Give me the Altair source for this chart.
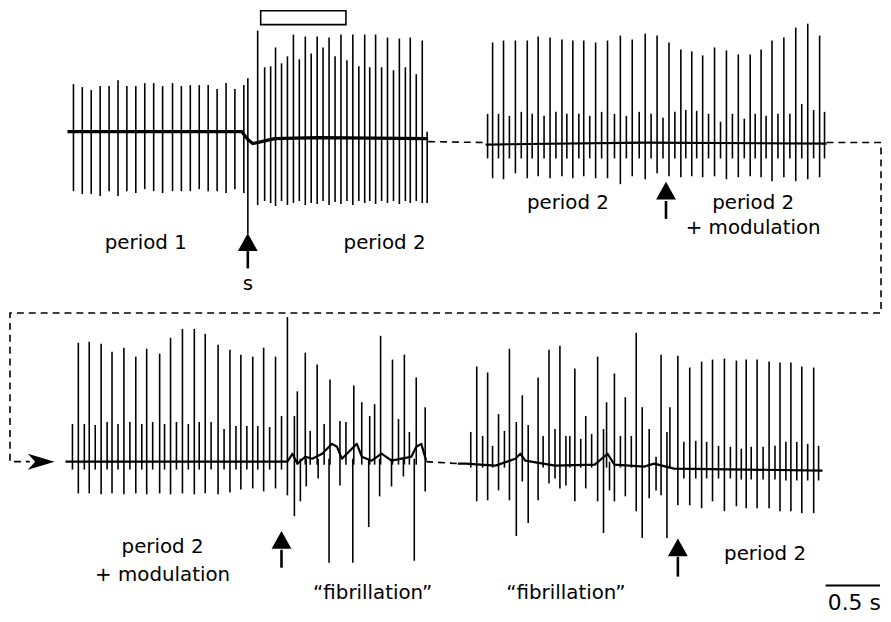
import altair as alt
import pandas as pd

# ---------------- data ----------------
# time: ms from the start of each sweep; amplitude: a.u. relative to the sweep baseline (up = positive)

# Sweep A (top left): period 1 -> stimulus s -> period 2
A_t = [55, 136, 218, 300, 382, 464, 545, 627, 709, 791, 873, 964, 1045, 1127, 1209, 1291, 1373, 1455, 1536, 1618,
       1655,
       1745, 1809, 1864, 1909, 1964, 2018, 2073, 2127, 2182, 2236, 2291, 2345, 2400, 2455, 2509, 2564, 2618, 2673,
       2727, 2773, 2827, 2882, 2936, 2991, 3045, 3100, 3145, 3200, 3255, 3300]
A_hi = [48, 45, 42, 46, 46, 52, 46, 46, 49, 49, 46, 49, 46, 47, 47, 47, 43, 49, 43, 47,
        54,
        102, 65, 66, 85, 69, 76, 98, 73, 96, 79, 96, 85, 95, 76, 98, 72, 98, 66,
        98, 65, 98, 65, 95, 62, 94, 65, 95, 58, 92, 0]
A_lo = [-60, -63, -63, -65, -60, -65, -60, -62, -58, -60, -62, -60, -60, -60, -58, -60, -60, -62, -58, -62,
        -103,
        -74, -70, -72, -75, -70, -74, -72, -70, -74, -72, -73, -70, -74, -71, -73, -70, -74, -70,
        -72, -70, -73, -70, -72, -70, -73, -70, -72, -70, -72, -72]
A_base_t = [0, 1600, 1655, 1700, 1780, 1900, 2300, 3309]
A_base_a = [0, 0, -8, -12, -10, -7, -6, -7]

# Sweep B (top right): period 2 -> period 2 + modulation
B_tall_t = [64, 164, 273, 382, 482, 591, 700, 800, 900, 1009, 1118, 1236, 1345, 1464, 1573, 1682, 1791, 1891,
            1991, 2100, 2209, 2318, 2427, 2527, 2627, 2736, 2845, 2955, 3064]
B_tall_hi = [102, 104, 104, 104, 108, 107, 105, 104, 104, 102, 104, 109, 105, 111, 109, 102, 95, 93,
             89, 97, 94, 90, 90, 95, 104, 107, 117, 121, 109]
B_tall_lo = [-35, -36, -30, -35, -33, -35, -33, -35, -33, -35, -35, -41, -33, -36, -30, -33, -34, -33,
             -34, -33, -36, -34, -33, -34, -38, -34, -38, -36, -34]
B_small_t = [18, 118, 218, 327, 427, 536, 645, 745, 855, 955, 1064, 1182, 1291, 1409, 1518, 1627, 1736, 1836,
             1936, 2045, 2155, 2264, 2373, 2473, 2573, 2682, 2791, 2900, 3009, 3109]
B_small_hi = [30, 30, 28, 32, 30, 28, 32, 30, 30, 28, 32, 30, 28, 32, 30, 26, 32, 34,
              33, 30, 22, 30, 25, 30, 28, 30, 30, 40, 34, 32]
B_small_lo = [-15] * 30
B_base_t = [0, 1455, 3127]
B_base_a = [-1, 1, 0]

# Sweep C (bottom left): period 2 + modulation -> "fibrillation"
C_t = [118, 218, 327, 427, 536, 645, 745, 864, 964, 1073, 1182, 1282, 1400, 1509, 1609, 1718, 1818, 1927, 2036,
       64, 173, 273, 382, 482, 591, 700, 800, 909, 1018, 1127, 1227, 1336, 1455, 1564, 1664, 1764, 1873, 1982,
       2100, 2127, 2155, 2200, 2209, 2245, 2309, 2318, 2373, 2418, 2427, 2518, 2573, 2636, 2645, 2718, 2782,
       2791, 2836, 2882, 2891, 2991, 3000, 3055, 3100, 3109, 3155, 3200, 3218, 3300]
C_hi = [120, 121, 119, 111, 115, 106, 114, 109, 125, 134, 134, 129, 118, 113, 108, 106, 115, 106, 146,
        38, 38, 37, 40, 38, 40, 38, 40, 38, 40, 38, 40, 40, 33, 36, 36, 36, 35, 46,
        46, 71, 3, 110, 3, 31, 98, 3, 38, 3, 83, 41, 40, 3, 77, 60, 3,
        46, 58, 3, 127, 3, 103, 43, 3, 108, 30, 3, 85, 55]
C_lo = [-32, -32, -33, -32, -33, -32, -33, -32, -33, -32, -33, -32, -33, -31, -28, -27, -30, -27, -34,
        -8, -8, -8, -8, -8, -8, -8, -8, -8, -8, -8, -8, -8, -8, -8, -8, -8, -8, -8,
        -55, -3, -40, -3, -25, -3, -3, -17, -3, -102, -3, -24, -3, -102, -3, -3, -66,
        -3, -3, -35, -3, -25, -3, -3, -15, -3, -3, -100, -3, -30]
C_base_t = [0, 2036, 2082, 2127, 2200, 2264, 2355, 2445, 2491, 2536, 2627, 2673, 2718, 2809, 2900, 2991,
            3082, 3173, 3218, 3264, 3309]
C_base_a = [0, 0, 8, -2, 5, 3, 8, 18, 15, 3, 13, 18, 5, 1, 8, 1, 3, 5, 15, 18, 1]

# Sweep D (bottom right): "fibrillation" -> period 2
D_t = [118, 173, 227, 273, 318, 373, 427, 473, 536, 591, 645, 736, 782, 836, 891, 936, 991, 1027, 1073, 1127,
       1173, 1227, 1282, 1336, 1364, 1391, 1436, 1491, 1536, 1591, 1636, 1691, 1755, 1818, 1864, 1918, 1945,
       2018, 2073, 2127, 2182, 2236, 2282, 2336, 2391, 2445, 2500, 2555, 2600, 2645, 2691, 2745, 2800, 2855,
       2909, 2955, 3009, 3055, 3109, 3155, 3209, 3264, 3309]
D_hi = [33, 99, 29, 93, 19, 51, 34, 117, 43, 70, 40, 88, 29, 116, 36, 120, 29, 29, 97, 26,
        49, 31, 109, 36, 63, 3, 92, 29, 68, 29, 133, 58, 36, 8, 111, 33, 58,
        110, 23, 98, 24, 104, 23, 106, 19, 107, 18, 105, 16, 106, 18, 106, 18, 104,
        19, 103, 23, 103, 23, 99, 21, 98, 19]
D_lo = [-3, -37, -3, -36, -3, -26, -3, -36, -72, -17, -59, -36, -3, -19, -14, -24, -21, -3, -37, -3,
        -24, -3, -37, -69, -3, -26, -37, -3, -32, -3, -47, -74, -34, -26, -31, -74, -3,
        -41, -14, -41, -14, -44, -14, -37, -14, -47, -14, -42, -15, -44, -15, -44, -15, -44,
        -15, -47, -16, -47, -16, -49, -16, -49, -16]
D_base_t = [0, 73, 345, 527, 573, 618, 891, 1255, 1373, 1436, 1709, 1800, 1982, 3345]
D_base_a = [1, 1, -1, 6, 11, 4, -1, 0, 11, 0, -2, 1, -4, -6]

SCALE_BAR_S = 0.5

# ---------------- layout (figure pixels) ----------------
MS_TO_PX = 0.11                      # 0.5 s scale bar spans 55 px
LAYOUT = {"A": (68, 130), "B": (490, 142), "C": (66, 463), "D": (462, 466)}


def spike_df(name, t, hi, lo):
    x0, b = LAYOUT[name]
    return pd.DataFrame({"x": [x0 + v * MS_TO_PX for v in t],
                         "y1": [b - h for h in hi], "y2": [b - l for l in lo]})


def base_df(name, t, a, w):
    x0, b = LAYOUT[name]
    return pd.DataFrame({"trace": name, "o": list(range(len(t))),
                         "x": [x0 + v * MS_TO_PX for v in t], "y": [b - v for v in a], "w": w})


spikes = pd.concat([
    spike_df("A", A_t, A_hi, A_lo),
    spike_df("B", B_tall_t, B_tall_hi, B_tall_lo),
    spike_df("B", B_small_t, B_small_hi, B_small_lo),
    spike_df("C", C_t, C_hi, C_lo),
    spike_df("D", D_t, D_hi, D_lo),
], ignore_index=True)

bases = pd.concat([
    base_df("A", A_base_t, A_base_a, 3.2),
    base_df("B", B_base_t, B_base_a, 2.2),
    base_df("C", C_base_t, C_base_a, 2.2),
    base_df("D", D_base_t, D_base_a, 2.2),
], ignore_index=True)

conn_pts = [
    ("g1", [(432, 140), (490, 141)]),
    ("g2", [(834, 141), (889, 141), (889, 313), (10, 313), (10, 463), (30, 463)]),
    ("g3", [(430, 463), (462, 465)]),
]
conn = pd.DataFrame([{"p": p, "o": i, "x": x, "y": y} for p, pts in conn_pts for i, (x, y) in enumerate(pts)])

arrows = pd.DataFrame({"x": [250, 672, 284, 684], "yh": [241.5, 189.5, 542, 549.5],
                       "y1": [250, 200, 552, 559], "y2": [268, 218, 570, 579]})
left_arrow = pd.DataFrame({"x": [41.5], "y": [463]})
stim_box = pd.DataFrame({"x": [263], "x2": [349], "y": [8], "y2": [22]})
bar_x0 = 833
scale_bar = pd.DataFrame({"x": [bar_x0], "x2": [bar_x0 + SCALE_BAR_S * 1000 * MS_TO_PX], "y": [588]})

labels = pd.DataFrame([
    ("period 1", 147, 248, 20), ("period 2", 388, 248, 20), ("s", 250, 290, 20),
    ("period 2", 573, 208, 20), ("period 2", 760, 208, 20), ("+ modulation", 760, 233, 20),
    ("period 2", 164, 555, 20), ("+ modulation", 164, 583, 20),
    ("\u201cfibrillation\u201d", 376, 602, 20), ("\u201cfibrillation\u201d", 571, 602, 20),
    ("period 2", 772, 562, 20), (f"{SCALE_BAR_S} s", 862, 613, 22),
], columns=["text", "x", "y", "size"])

# ---------------- chart ----------------
W, H = 883, 614
xs = alt.Scale(domain=[8, 8 + W])
ys = alt.Scale(domain=[8 + H, 8])
X = lambda f: alt.X(f, type="quantitative", scale=xs, axis=None)
Y = lambda f: alt.Y(f, type="quantitative", scale=ys, axis=None)

connectors = alt.Chart(conn).mark_line(color="black", strokeWidth=1.6, strokeDash=[7, 5]).encode(
    x=X("x"), y=Y("y"), detail="p:N", order="o:Q")
baselines = alt.Chart(bases).mark_line(color="black", strokeJoin="round").encode(
    x=X("x"), y=Y("y"), detail="trace:N", order="o:Q",
    strokeWidth=alt.StrokeWidth("w:Q", scale=None, legend=None))
spike_rules = alt.Chart(spikes).mark_rule(color="black", strokeWidth=1.6).encode(
    x=X("x"), y=Y("y1"), y2="y2")
shafts = alt.Chart(arrows).mark_rule(color="black", strokeWidth=2.6).encode(
    x=X("x"), y=Y("y1"), y2="y2")
heads = alt.Chart(arrows).mark_point(shape="M0,-0.9L1,0.9L-1,0.9Z", filled=True, size=400,
                                     color="black", opacity=1).encode(x=X("x"), y=Y("yh"))
lhead = alt.Chart(left_arrow).mark_point(shape="M1,0L-1,-0.6L-0.45,0L-1,0.6Z", filled=True, size=729,
                                         color="black", opacity=1).encode(x=X("x"), y=Y("y"))
box = alt.Chart(stim_box).mark_rect(fill="white", stroke="black", strokeWidth=1.6).encode(
    x=X("x"), x2="x2", y=Y("y"), y2="y2")
bar = alt.Chart(scale_bar).mark_rule(color="black", strokeWidth=2).encode(x=X("x"), x2="x2", y=Y("y"))
texts = alt.Chart(labels).mark_text(font="DejaVu Sans", baseline="alphabetic", align="center",
                                    color="black").encode(
    x=X("x"), y=Y("y"), text="text:N", size=alt.Size("size:Q", scale=None, legend=None))

chart = alt.layer(connectors, baselines, spike_rules, shafts, heads, lhead, box, bar, texts).properties(
    width=W, height=H, padding=0, autosize=alt.AutoSizeParams(type="none"),
    background="white").configure_view(stroke=None)

chart.save("out.html", embed_options={"renderer": "svg", "actions": False})
